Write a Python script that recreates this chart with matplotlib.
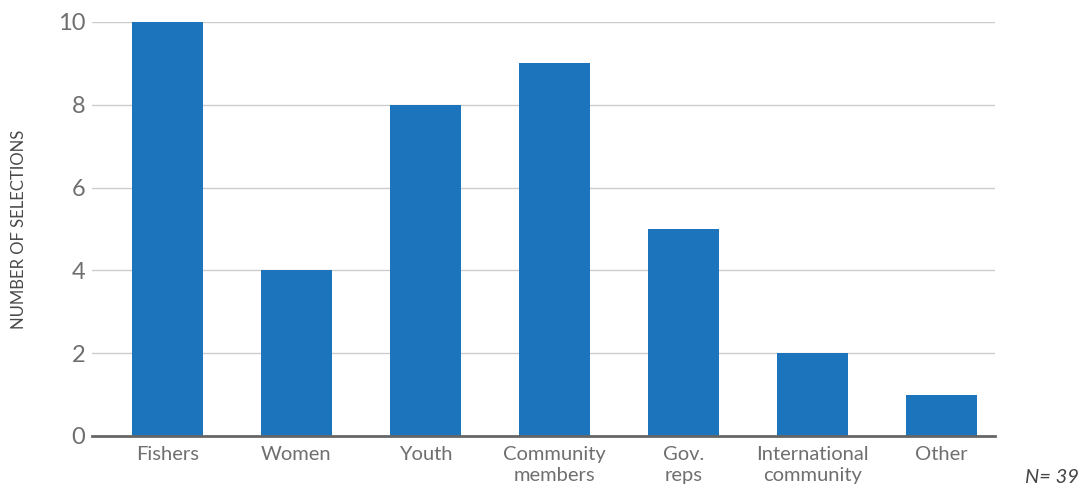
import matplotlib
matplotlib.use('Agg')
import matplotlib.pyplot as plt
import numpy as np

# Данные
categories = ['Fishers', 'Women', 'Youth', 'Community\nmembers', 'Gov.\nreps',
              'International\ncommunity', 'Other']
values = [10, 4, 8, 9, 5, 2, 1]
y_ticks = [0, 2, 4, 6, 8, 10]

plt.rcParams['font.family'] = ['Lato', 'DejaVu Sans']

fig = plt.figure(figsize=(10.84, 4.88), dpi=100)
ax = fig.add_axes([92 / 1084, 52 / 488, 903 / 1084, 414 / 488])

x = np.arange(len(categories))
ax.bar(x, values, width=0.55, color='#1c75bc', zorder=3)

ax.set_xlim(-0.585, 6.415)
ax.set_ylim(0, 10)
ax.set_yticks(y_ticks)
ax.set_xticks(x)
ax.set_xticklabels(categories, fontsize=14.5, color='#6f6f6f', linespacing=1.3)
ax.tick_params(axis='y', labelsize=17, labelcolor='#6f6f6f', length=0, pad=5)
ax.tick_params(axis='x', length=0, pad=7)

ax.grid(axis='y', color='#cccccc', linewidth=1, zorder=0)
for s in ['top', 'right', 'left']:
    ax.spines[s].set_visible(False)
ax.spines['bottom'].set_color('#666666')
ax.spines['bottom'].set_linewidth(2)
ax.spines['bottom'].set_zorder(4)

ax.set_ylabel('NUMBER OF SELECTIONS', fontsize=12, color='#4a4a4a', labelpad=22)

fig.text(0.995, 0.004, 'N= 39', fontsize=14.5, style='italic', color='#444444',
         ha='right', va='bottom')

plt.savefig('out.png', dpi=100)
